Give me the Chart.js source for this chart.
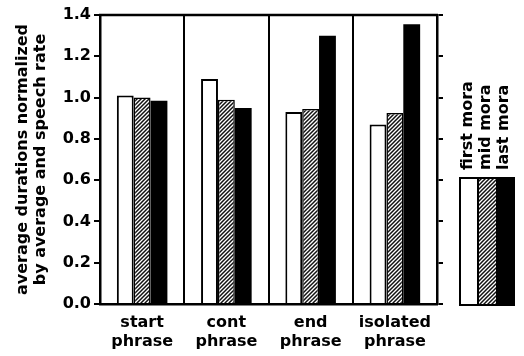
<!DOCTYPE html>
<html>
<head>
<meta charset="utf-8">
<script src="https://cdn.jsdelivr.net/npm/chart.js@4"></script>
<style>
body{margin:0;background:#fff;}
#wrap{width:524px;height:356px;}
</style>
</head>
<body>
<div id="wrap"><canvas id="grafico" width="524" height="356"></canvas></div>
<script>

/* =============================
DADOS
============================= */

const categorias=[["start","phrase"],["cont","phrase"],["end","phrase"],["isolated","phrase"]];
const nomes=["first mora","mid mora","last mora"];
const firstMora=[1.01,1.09,0.93,0.87];
const midMora=[1.00,0.99,0.945,0.925];
const lastMora=[0.985,0.95,1.30,1.355];
const tituloY=["average durations normalized","by average and speech rate"];

const fonte={family:"'DejaVu Sans', sans-serif",size:16,weight:"bold"};

/* =============================
HACHURA
============================= */

function hachura(){
const c=document.createElement("canvas");
c.width=4;c.height=4;
const g=c.getContext("2d");
g.fillStyle="#fff";
g.fillRect(0,0,4,4);
g.strokeStyle="#111";
g.lineWidth=1.5;
g.beginPath();
g.moveTo(0,4);g.lineTo(4,0);
g.moveTo(-1,1);g.lineTo(1,-1);
g.moveTo(3,5);g.lineTo(5,3);
g.stroke();
return g.createPattern(c,"repeat");
}

const cores=["#fff",hachura(),"#000"];

/* =============================
MOLDURA + LEGENDA
============================= */

const extras={
id:"extras",
afterDraw(chart){
const ctx=chart.ctx;
const a=chart.chartArea;
ctx.save();
ctx.strokeStyle="#000";
ctx.lineWidth=2.5;
ctx.beginPath();
ctx.moveTo(a.left-1,a.top);
ctx.lineTo(a.right+1,a.top);
ctx.stroke();

/* legenda */
const x0=a.right+23,y0=178,larg=18,alt=a.bottom+1-y0;
chart.data.datasets.forEach((ds,i)=>{
ctx.fillStyle=ds.backgroundColor;
ctx.fillRect(x0+i*larg,y0,larg,alt);
});
ctx.lineWidth=2;
ctx.strokeRect(x0,y0,larg*3,alt);
ctx.beginPath();
ctx.moveTo(x0+larg,y0);ctx.lineTo(x0+larg,y0+alt);
ctx.stroke();

ctx.fillStyle="#000";
ctx.font="bold 16px 'DejaVu Sans', sans-serif";
ctx.textAlign="left";
ctx.textBaseline="middle";
chart.data.datasets.forEach((ds,i)=>{
ctx.save();
ctx.translate(x0+i*larg+larg/2-1,170);
ctx.rotate(-Math.PI/2);
ctx.fillText(ds.label,0,0);
ctx.restore();
});
ctx.restore();
}
};

/* =============================
GRAFICO
============================= */

new Chart(document.getElementById("grafico"),{
type:"bar",
data:{
labels:categorias,
datasets:[
{label:nomes[0],data:firstMora,backgroundColor:cores[0],borderWidth:2},
{label:nomes[1],data:midMora,backgroundColor:cores[1],borderWidth:1.5},
{label:nomes[2],data:lastMora,backgroundColor:cores[2],borderWidth:0}
]
},
options:{
responsive:false,
animation:false,
layout:{padding:{top:15,right:0,left:0,bottom:0}},
datasets:{bar:{categoryPercentage:0.6,barPercentage:1,borderColor:"#000",borderSkipped:"bottom"}},
plugins:{legend:{display:false},tooltip:{enabled:false}},
scales:{
x:{
grid:{color:"#000",lineWidth:2,drawTicks:false},
border:{color:"#000",width:2.5},
ticks:{color:"#000",font:{...fonte,lineHeight:1.2},padding:9,maxRotation:0},
afterFit:s=>{s.height=52;}
},
y:{
min:0,max:1.4,
grid:{drawOnChartArea:false,color:"#000",lineWidth:2,tickLength:6},
border:{color:"#000",width:2.5},
ticks:{stepSize:0.2,color:"#000",font:fonte,padding:3,callback:v=>v.toFixed(1)},
title:{display:true,text:tituloY,color:"#000",font:{...fonte,lineHeight:1.1},padding:{top:14,bottom:2}},
afterFit:s=>{s.width=100;}
},
y2:{
position:"right",
min:0,max:1.4,
grid:{drawOnChartArea:false,color:"#000",lineWidth:2,tickLength:6},
border:{color:"#000",width:2.5},
ticks:{stepSize:0.2,display:false},
afterFit:s=>{s.width=87;}
}
}
},
plugins:[extras]
});

</script>
</body>
</html>
